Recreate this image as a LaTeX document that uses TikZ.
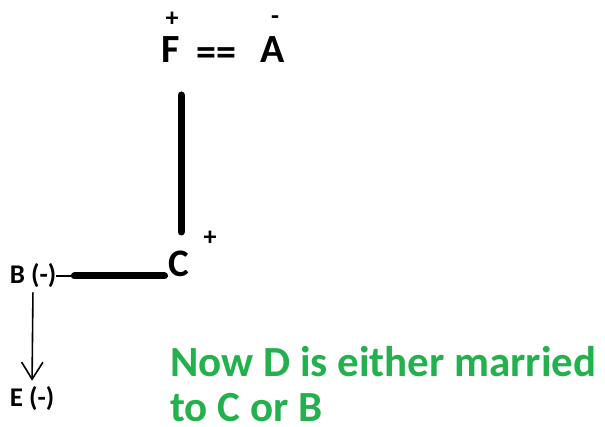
\documentclass[tikz,border=0pt]{standalone}
\usepackage{fontspec}
\setmainfont{Carlito}
\usetikzlibrary{
  arrows.meta,
  positioning
}
\definecolor{notegreen}{HTML}{22B14C}
\tikzset{
  letter/.style={inner sep=0pt, font=\bfseries\fontsize{40}{48}\selectfont},
  midletter/.style={inner sep=0pt, font=\bfseries\fontsize{39}{44}\selectfont},
  smallletter/.style={inner sep=0pt, font=\bfseries\fontsize{27}{32}\selectfont},
  sign/.style={inner sep=0pt, font=\bfseries\fontsize{26}{30}\selectfont},
  bond/.style={line width=7pt, line cap=round},
  thinbond/.style={line width=1.6pt},
  arrow/.style={-{Straight Barb[length=6mm, width=7.5mm, line width=1.6pt]}, line width=1.6pt},
  note/.style={inner sep=0pt, align=left, text=notegreen,
    font=\bfseries\fontsize{43}{45}\selectfont}
}

\begin{document}
\begin{tikzpicture}[x=1pt, y=-1pt]
  \useasboundingbox (0,0) rectangle (605,427);

  \node[letter] (F) at (171,50) {F};
  \node[letter] (eq) at (216,57) {==};
  \node[letter] (A) at (273,50) {A};
  \node[sign] (plusF) at (172,19) {+};
  \node[sign] (minusA) at (275,20) {-};

  \node[midletter] (C) at (179,264) {C};
  \node[sign] (plusC) at (210,238) {+};

  \node[smallletter] (B) at (33,276) {B (-)};
  \node[smallletter] (E) at (32,399) {E (-)};

  \coordinate (top) at (181,95);
  \coordinate (bottom) at (181,232);
  \draw[bond] (top) -- (bottom);
  \draw[thinbond] (B.east) -- (B.east -| C.west);
  \draw[bond, shorten <=18pt, shorten >=4pt] (B.east) -- (B.east -| C.west);
  \draw[arrow, shorten <=4pt, shorten >=6pt] (B.south) -- (E.north);

  \node[note, anchor=north west] (remark) at (170,346)
    {Now D is either married\\to C or B};
\end{tikzpicture}
\end{document}
